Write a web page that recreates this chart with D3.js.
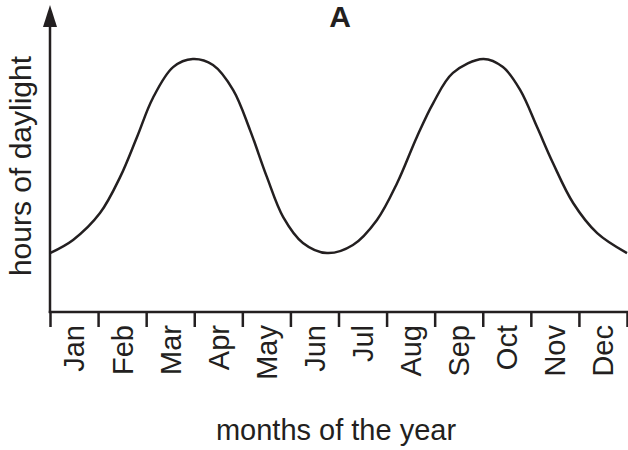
<!DOCTYPE html>
<html>
<head>
<meta charset="utf-8">
<script src="https://cdn.jsdelivr.net/npm/d3@7"></script>
<style>
  body { margin: 0; background: #fff; }
  text { font-family: "Liberation Sans", Arial, sans-serif; fill: #231f20; }
</style>
</head>
<body>
<div id="chart"></div>
<script>
// months along the x axis
const months = ["Jan", "Feb", "Mar", "Apr", "May", "Jun", "Jul", "Aug", "Sep", "Oct", "Nov", "Dec"];

// curve: position in months (0 = start of Jan) and relative daylight
const curveMonth = [0, 0.48, 1.04, 1.46, 1.81, 2.14, 2.56, 2.97, 3.39, 3.81, 4.16, 4.51, 4.85, 5.26, 5.76,
                    6.30, 6.80, 7.22, 7.63, 7.97, 8.38, 9.01, 9.42, 9.78, 10.13, 10.46, 10.88, 11.38, 12];
const curveValue = [2.33, 2.85, 3.91, 5.34, 6.92, 8.46, 9.68, 10, 9.76, 8.77, 7.19, 5.34, 3.75, 2.73, 2.33,
                    2.65, 3.64, 5.10, 6.92, 8.26, 9.45, 10, 9.68, 8.77, 7.31, 5.89, 4.31, 3.12, 2.33];

const width = 628, height = 450;
const plotLeft = 50, plotRight = 627, plotBottom = 312, plotTop = 59;

const svg = d3.select("#chart").append("svg")
    .attr("width", width)
    .attr("height", height);

const x = d3.scaleLinear().domain([0, 12]).range([plotLeft, plotRight]);
const y = d3.scaleLinear().domain([0, 10]).range([plotBottom, plotTop]);

// y axis with arrow
svg.append("line")
    .attr("x1", plotLeft).attr("x2", plotLeft)
    .attr("y1", plotBottom + 1).attr("y2", 22)
    .attr("stroke", "#231f20").attr("stroke-width", 2.5);
svg.append("path")
    .attr("d", `M${plotLeft},5 L${plotLeft + 7},27 L${plotLeft - 7},27 Z`)
    .attr("fill", "#231f20");

// x axis: ticks at month boundaries
const xAxis = d3.axisBottom(x)
    .tickValues(d3.range(0, 13))
    .tickSize(15)
    .tickSizeOuter(0)
    .tickFormat("");
const gx = svg.append("g")
    .attr("transform", `translate(0,${plotBottom})`)
    .call(xAxis);
gx.select(".domain").attr("stroke", "#231f20").attr("stroke-width", 2.5)
    .attr("d", `M${plotLeft - 1.25},0H${plotRight + 1}`);
gx.selectAll(".tick line").attr("stroke", "#231f20").attr("stroke-width", 2.5);

// month labels, rotated
svg.selectAll(".month")
    .data(months)
    .enter().append("text")
    .attr("class", "month")
    .attr("transform", (d, i) => `translate(${x(i + 0.5)},325) rotate(-90)`)
    .attr("text-anchor", "end")
    .attr("dy", "0.36em")
    .style("font-size", "29px")
    .text(d => d);

// daylight curve
const pts = curveMonth.map((m, i) => [m, curveValue[i]]);
const line = d3.line()
    .x(d => x(d[0]))
    .y(d => y(d[1]))
    .curve(d3.curveCatmullRom.alpha(0.5));
svg.append("path")
    .datum(pts)
    .attr("d", line)
    .attr("fill", "none")
    .attr("stroke", "#231f20")
    .attr("stroke-width", 2.5);

// titles
svg.append("text")
    .attr("x", 340).attr("y", 27)
    .attr("text-anchor", "middle")
    .style("font-size", "30px")
    .style("font-weight", "bold")
    .text("A");

svg.append("text")
    .attr("x", 336).attr("y", 440)
    .attr("text-anchor", "middle")
    .style("font-size", "29px")
    .text("months of the year");

svg.append("text")
    .attr("transform", "translate(31,166) rotate(-90)")
    .attr("text-anchor", "middle")
    .style("font-size", "30px")
    .text("hours of daylight");
</script>
</body>
</html>
